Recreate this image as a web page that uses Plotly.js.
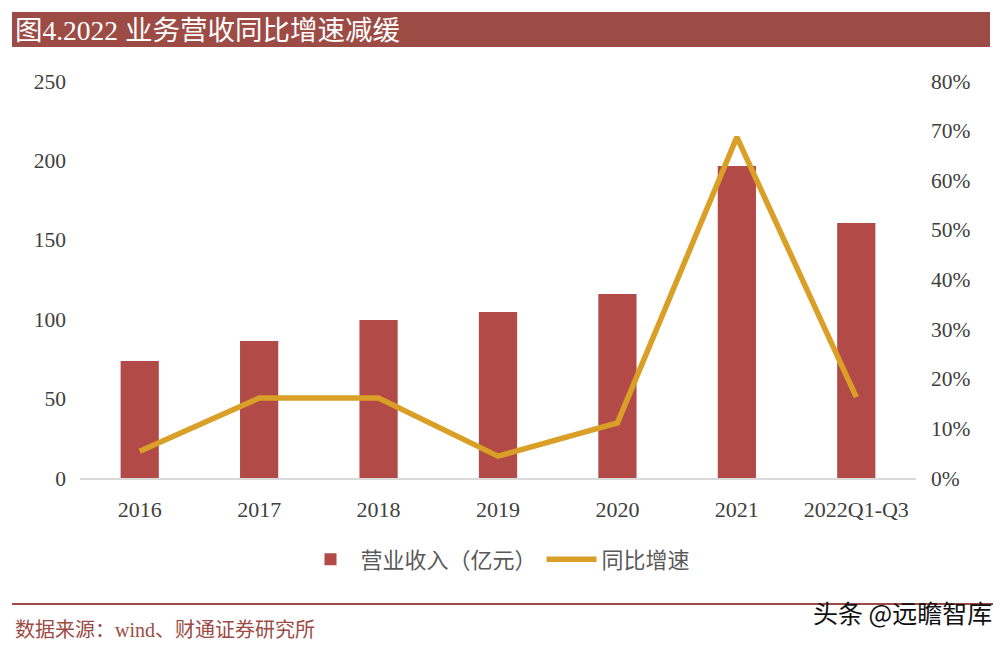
<!DOCTYPE html>
<html>
<head>
<meta charset="utf-8">
<script src="https://cdn.plot.ly/plotly-3.0.1.min.js"></script>
<style>html,body{margin:0;padding:0;background:#fff;}#chart{width:1003px;height:646px;}</style>
</head>
<body>
<div id="chart"></div>
<script>
const categories = ["2016", "2017", "2018", "2019", "2020", "2021", "2022Q1-Q3"];
const revenue = [73.7, 86.3, 99.5, 104.5, 115.9, 196.5, 160.6];
const growth = [0.054, 0.161, 0.161, 0.044, 0.111, 0.687, 0.163];
const seriesNames = ["营业收入（亿元）", "同比增速"];
const chartTitle = "图4.2022 业务营收同比增速减缓";
const sourceText = "数据来源：wind、财通证券研究所";
const watermark = "头条 @远瞻智库";

const serif = "Liberation Serif, Noto Sans CJK SC, serif";
const yTickFont = {family: serif, size: 21.5, color: "#404040"};
const xTickFont = {family: serif, size: 22, color: "#404040"};

const traces = [
  {
    type: "bar", name: seriesNames[0], x: categories, y: revenue,
    marker: {color: "#B24A47"}, yaxis: "y", hoverinfo: "x+y"
  },
  {
    type: "scatter", mode: "lines", name: seriesNames[1], x: categories, y: growth,
    line: {color: "#DA9F26", width: 5.5}, yaxis: "y2"
  }
];

const layout = {
  width: 1003, height: 646,
  margin: {l: 80, r: 87, t: 81, b: 168},
  paper_bgcolor: "#ffffff", plot_bgcolor: "#ffffff",
  bargap: 0.68,
  showlegend: true,
  title: {
    text: chartTitle, x: 15/1003, xanchor: "left", xref: "container",
    y: 1 - 30/646, yanchor: "middle", yref: "container",
    font: {family: serif, size: 27.5, color: "#ffffff"}
  },
  legend: {
    orientation: "h", x: 0.5, xanchor: "center", y: -0.205, yanchor: "middle",
    font: {family: serif, size: 22, color: "#595959"}, itemwidth: 50,
    traceorder: "normal"
  },
  xaxis: {
    type: "category", showline: true, linecolor: "#d9d9d9", linewidth: 2,
    ticks: "", tickfont: xTickFont, showgrid: false, zeroline: false,
    ticklabelstandoff: 11, fixedrange: true
  },
  yaxis: {
    range: [0, 250], dtick: 50, tick0: 0, showgrid: false, zeroline: false,
    showline: false, ticks: "", tickfont: yTickFont, ticklabelstandoff: 13
  },
  yaxis2: {
    range: [0, 0.8], dtick: 0.1, tick0: 0, tickformat: ".0%", overlaying: "y",
    side: "right", showgrid: false, zeroline: false, showline: false, ticks: "",
    tickfont: yTickFont, ticklabelstandoff: 14
  },
  shapes: [
    {type: "rect", xref: "paper", yref: "paper", layer: "below",
     x0: (12-80)/836, x1: (990-80)/836, y0: (478-47)/397, y1: (478-12)/397,
     fillcolor: "#9C4B45", line: {width: 0}},
    {type: "line", xref: "paper", yref: "paper",
     x0: (12-80)/836, x1: (993-80)/836, y0: (478-604)/397, y1: (478-604)/397,
     line: {color: "#9C4B45", width: 2}}
  ],
  annotations: [
    {text: sourceText, xref: "paper", yref: "paper", x: (13-80)/836, y: (478-630)/397,
     xanchor: "left", yanchor: "middle", showarrow: false,
     font: {family: serif, size: 20, color: "#9C4B45"}},
    {text: watermark, xref: "paper", yref: "paper", x: (994-80)/836, y: (478-612)/397,
     xanchor: "right", yanchor: "middle", showarrow: false,
     font: {family: "Noto Sans CJK SC, sans-serif", size: 25, color: "#111111"}}
  ]
};

Plotly.newPlot("chart", traces, layout, {displayModeBar: false, staticPlot: true});
</script>
</body>
</html>
